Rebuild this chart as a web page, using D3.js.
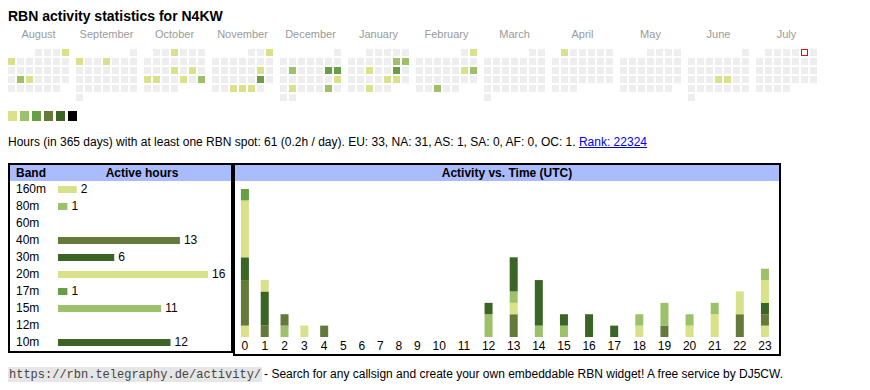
<!DOCTYPE html>
<html><head><meta charset="utf-8">
<script src="https://cdn.jsdelivr.net/npm/d3@7"></script>
<style>
body{margin:0;background:#fff}
svg{display:block;font-family:"Liberation Sans",Arial,sans-serif}
</style>
</head><body><svg id="c" width="870" height="390"></svg>
<script>
// ---------------- data ----------------
const callsign = "N4KW";
const firstMonth = "2024-08-01";
const monthCount = 12;
const today = "2025-07-05";

const activeDays = ["2024-08-04","2024-08-05","2024-08-20","2024-08-21",
  "2024-09-02","2024-09-05",
  "2024-10-03","2024-10-17","2024-10-19","2024-10-21","2024-10-22","2024-10-25","2024-10-27",
  "2024-11-03","2024-11-16","2024-11-23","2024-11-27","2024-11-28","2024-11-29",
  "2024-12-10","2024-12-14","2024-12-15","2024-12-22","2024-12-24","2024-12-28",
  "2025-01-11","2025-01-12","2025-01-15","2025-01-18","2025-01-24","2025-01-25","2025-01-29",
  "2025-02-02","2025-02-15","2025-02-16","2025-02-26",
  "2025-04-01","2025-06-19","2025-06-20"];
const activeDayHours = [1,1,2,1, 1,1, 1,1,1,1,1,1,2, 1,1,5,1,1,1, 2,4,5,1,1,2, 2,2,1,4,1,1,1, 1,1,2,2, 1, 1,1];

const levelColors = ["#d9e18b","#9dc16b","#689e45","#64793a","#3b6426","#000000"];
const levelBreaks = [2,3,6,9,13];

const totalHours = 61;
const periodDays = 365;
const continents = ["EU","NA","AS","SA","AF","OC"];
const continentHours = [33,31,1,0,0,1];
const rank = 22324;

const bands = ["160m","80m","60m","40m","30m","20m","17m","15m","12m","10m"];
const bandHours = [2,1,0,13,6,16,1,11,0,12];
const bandColors = ["#d9e18b","#9dc16b","#9dc16b","#64793a","#3b6426","#d9e18b","#689e45","#9dc16b","#d9e18b","#3b6426"];

const hours = d3.range(24);
// hourly activity per band (index = UTC hour)
const hourly = {
  "160m":[1,0,0,0,0,0,0,0,0,0,0,0,0,0,0,0,0,0,0,0,0,0,0,1],
  "80m": [0,0,1,0,0,0,0,0,0,0,0,0,0,0,0,0,0,0,0,0,0,0,0,0],
  "60m": [0,0,0,0,0,0,0,0,0,0,0,0,0,0,0,0,0,0,0,0,0,0,0,0],
  "40m": [4,1,1,0,1,0,0,0,0,0,0,0,0,2,0,0,0,0,0,1,0,0,2,1],
  "30m": [2,3,0,0,0,0,0,0,0,0,0,0,0,0,0,0,0,0,0,0,0,0,0,1],
  "20m": [5,1,0,1,0,0,0,0,0,0,0,0,0,1,0,0,0,0,1,0,1,2,2,2],
  "17m": [1,0,0,0,0,0,0,0,0,0,0,0,0,0,0,0,0,0,0,0,0,0,0,0],
  "15m": [0,0,0,0,0,0,0,0,0,0,0,0,2,1,1,1,0,0,1,2,1,1,0,1],
  "12m": [0,0,0,0,0,0,0,0,0,0,0,0,0,0,0,0,0,0,0,0,0,0,0,0],
  "10m": [0,0,0,0,0,0,0,0,0,0,0,0,1,3,4,1,2,1,0,0,0,0,0,0]
};

// ---------------- drawing ----------------
const svg = d3.select("#c");
svg.append("rect").attr("width",870).attr("height",390).attr("fill","#fff");

svg.append("text").attr("x",8).attr("y",21).attr("font-size",14).attr("font-weight","bold")
  .attr("fill","#000").text("RBN activity statistics for " + callsign);

// calendar
const parse = d3.timeParse("%Y-%m-%d");
const fmtKey = d3.timeFormat("%Y-%m-%d");
const hoursByDay = new Map(activeDays.map((d,i)=>[d, activeDayHours[i]]));
const level = d3.scaleThreshold().domain(levelBreaks).range(levelColors);
const m0 = parse(firstMonth);
const monthStarts = d3.range(monthCount).map(i => d3.timeMonth.offset(m0, i));
const cell = 7, pitch = 9, monthPitch = 68, calX = 8, calY = 49;
const monthX = d3.scaleLinear().domain([0,1]).range([calX, calX+monthPitch]);
const cal = svg.append("g");
const isToday = d => fmtKey(d) === today;
monthStarts.forEach((ms, mi) => {
  const g = cal.append("g").attr("transform", `translate(${monthX(mi)},0)`);
  g.append("text").attr("x", (7*pitch - (pitch-cell))/2).attr("y",38)
    .attr("text-anchor","middle").attr("font-size",11).attr("fill","#9a9a9a")
    .text(d3.timeFormat("%B")(ms));
  const days = d3.timeDays(ms, d3.timeMonth.offset(ms,1));
  const wk0 = d3.timeMonday.floor(ms);
  const cx = d => ((d.getDay()+6)%7)*pitch;
  const cy = d => calY + d3.timeMonday.count(wk0, d)*pitch;
  g.selectAll("rect.day").data(days).join("rect").attr("class","day")
    .attr("x", cx).attr("y", cy).attr("width", cell).attr("height", cell)
    .attr("fill", d => { const h = hoursByDay.get(fmtKey(d)); return h ? level(h) : (isToday(d) ? "#ff0000" : "#eeeeee"); });
  // marker for the current day: red frame
  g.selectAll("rect.today").data(days.filter(isToday)).join("rect").attr("class","today")
    .attr("x", d => cx(d)+1).attr("y", d => cy(d)+1).attr("width", cell-2).attr("height", cell-2)
    .attr("fill", "#ffffff");
});

// legend
svg.append("g").selectAll("rect").data(levelColors).join("rect")
  .attr("x",(d,i)=>8+i*12).attr("y",111).attr("width",9).attr("height",10).attr("fill",d=>d);

// stats line
const statsPre = `Hours (in ${periodDays} days) with at least one RBN spot: ${totalHours} (${(totalHours/periodDays).toFixed(1)}h / day). ` +
  continents.map((c,i)=>`${c}: ${continentHours[i]}`).join(", ") + ". ";
const stats = svg.append("text").attr("x",8).attr("y",146).attr("font-size",12).attr("fill","#000")
  .style("white-space","pre");
stats.append("tspan").text(statsPre);
const link = stats.append("tspan").attr("fill","#0000ee").text(`Rank: ${rank}`);
{
  const n = statsPre.length;
  const x0 = stats.node().getStartPositionOfChar(n).x;
  const x1 = x0 + link.node().getComputedTextLength();
  svg.append("line").attr("x1",x0).attr("x2",x1).attr("y1",147.5).attr("y2",147.5)
    .attr("stroke","#0000ee").attr("stroke-width",1);
}

// band table
const bt = {x:8, y:163, w:225, h:190};
svg.append("rect").attr("x",bt.x+1).attr("y",bt.y+1).attr("width",bt.w-2).attr("height",bt.h-2)
  .attr("fill","#fff").attr("stroke","#000").attr("stroke-width",2);
svg.append("rect").attr("x",bt.x+2).attr("y",bt.y+2).attr("width",bt.w-4).attr("height",16).attr("fill","#aabbff");
svg.append("text").attr("x",16).attr("y",177).attr("font-size",12).attr("font-weight","bold").text("Band");
svg.append("text").attr("x",142).attr("y",177).attr("font-size",12).attr("font-weight","bold")
  .attr("text-anchor","middle").text("Active hours");
const rowY = d3.scalePoint().domain(bands).range([192.7, 345.7]);
const barX = d3.scaleLinear().domain([0, d3.max(bandHours)]).range([58, 208]);
const rows = svg.append("g").selectAll("g").data(bands).join("g");
rows.append("text").attr("x",16).attr("y",d=>rowY(d)).attr("font-size",12).text(d=>d);
rows.filter((d,i)=>bandHours[i]>0).append("rect")
  .attr("x",barX(0)).attr("y",d=>rowY(d)-6.7)
  .attr("width",d=>barX(bandHours[bands.indexOf(d)])-barX(0)).attr("height",7)
  .attr("fill",d=>bandColors[bands.indexOf(d)]);
rows.filter((d,i)=>bandHours[i]>0).append("text")
  .attr("x",d=>barX(bandHours[bands.indexOf(d)])+4).attr("y",d=>rowY(d)).attr("font-size",12)
  .text(d=>bandHours[bands.indexOf(d)]);

// activity vs time
const at = {x:233, y:163, w:548, h:193};
svg.append("rect").attr("x",at.x+1).attr("y",at.y+1).attr("width",at.w-2).attr("height",at.h-2)
  .attr("fill","#fff").attr("stroke","#000").attr("stroke-width",2);
svg.append("rect").attr("x",at.x+2).attr("y",at.y+2).attr("width",at.w-4).attr("height",16).attr("fill","#aabbff");
svg.append("text").attr("x",at.x+at.w/2).attr("y",177).attr("font-size",12).attr("font-weight","bold")
  .attr("text-anchor","middle").text("Activity vs. Time (UTC)");

const totals = hours.map(h => d3.sum(bands, b => hourly[b][h]));
// column layout like an auto table: width = padding + max(label width, bar width)
const barW = 8, colPad = 12, colL = 235, colR = 777.5;
const tmp = svg.append("text").attr("font-size",12);
const labelW = hours.map(h => { tmp.text(String(h)); return tmp.node().getComputedTextLength(); });
tmp.remove();
const rawW = hours.map(h => colPad + Math.max(labelW[h], totals[h] > 0 ? barW : 0));
const k = (colR - colL) / d3.sum(rawW);
const centers = [];
{ let acc = colL; hours.forEach(h => { const w = rawW[h]*k; centers.push(acc + w/2); acc += w; }); }
const xHour = d3.scaleOrdinal().domain(hours).range(centers);
const yAct = d3.scaleLinear().domain([0, d3.max(totals)]).range([337, 189]);

const stackData = hours.map(h => { const o = {hour:h}; bands.forEach(b => o[b] = hourly[b][h]); return o; });
const series = d3.stack().keys(bands)(stackData);
svg.append("g").selectAll("g").data(series).join("g")
  .attr("fill", s => bandColors[bands.indexOf(s.key)])
  .selectAll("rect").data(s => s.filter(d => d[1] > d[0])).join("rect")
  .attr("x", d => xHour(d.data.hour) - barW/2).attr("width", barW)
  .attr("y", d => yAct(d[1])).attr("height", d => yAct(d[0]) - yAct(d[1]));

const xAxis = d3.axisBottom(d3.scalePoint().domain(hours).range([0,1])).tickSize(0).tickPadding(0);
const axG = svg.append("g").attr("transform","translate(0,340)").call(xAxis);
axG.select(".domain").remove();
axG.selectAll(".tick").attr("transform", d => `translate(${xHour(d)},0)`);
axG.selectAll("text").attr("font-size",12).attr("font-family","Liberation Sans, Arial, sans-serif")
  .attr("fill","#000").attr("dy",null).attr("y",10);

// footer
const url = "https://rbn.telegraphy.de/activity/";
const code = svg.append("text").attr("x",9).attr("y",378).attr("font-size",12)
  .attr("font-family","Liberation Mono, Courier New, monospace").attr("fill","#444").text(url);
const cl = code.node().getComputedTextLength();
svg.insert("rect", () => code.node()).attr("x",8).attr("y",367).attr("width",cl+2).attr("height",15).attr("fill","#e6e6e6");
svg.append("text").attr("x",8+cl+4).attr("y",378).attr("font-size",12).attr("fill","#000")
  .style("white-space","pre")
  .text("- Search for any callsign and create your own embeddable RBN widget! A free service by DJ5CW.");
</script>
</body></html>
